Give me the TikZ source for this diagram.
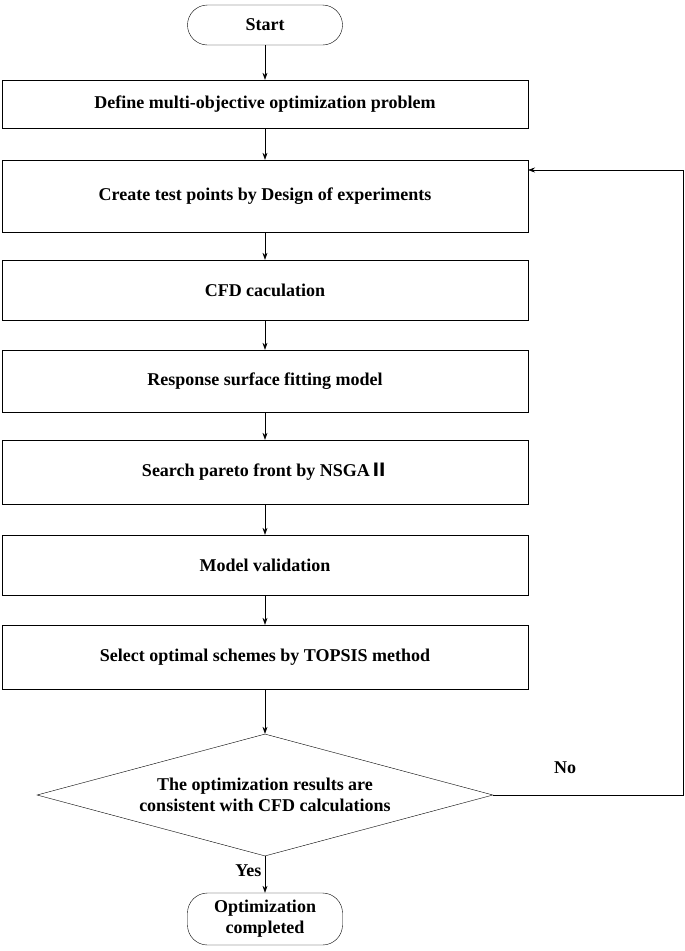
\documentclass[tikz,border=0pt]{standalone}
\usepackage{fontspec}
\setmainfont{Liberation Serif}
\newfontfamily\cjk{Noto Sans CJK SC}
\usetikzlibrary{shapes.geometric,arrows.meta}
\begin{document}
\begin{tikzpicture}[x=1pt,y=-1pt,
  every node/.style={font=\fontsize{18}{21}\selectfont\bfseries},
  proc/.style={draw,minimum width=526pt,minimum height=#1,inner sep=0pt},
  term/.style={draw,rounded corners=20pt,minimum width=155pt,align=center,inner sep=2pt},
  arr/.style={-{Stealth[length=7pt,width=5pt]},line width=0.6pt}]
\useasboundingbox (0,0) rectangle (685,951);
\node[term,minimum height=40pt] (s) at (265,25) {Start};
\node[proc=48pt] (b1) at (265,104) {Define multi-objective optimization problem};
\node[proc=72pt] (b2) at (265,196) {Create test points by Design of experiments};
\node[proc=60pt] (b3) at (265,290) {CFD caculation};
\node[proc=62pt] (b4) at (265,381) {Response surface fitting model};
\node[proc=64pt] (b5) at (265,472) {Search pareto front by NSGA{\cjk Ⅱ}};
\node[proc=60pt] (b6) at (265,565) {Model validation};
\node[proc=64pt] (b7) at (265,657) {Select optimal schemes by TOPSIS method};
\node[draw,diamond,aspect=3.74,minimum width=456pt,minimum height=122pt,inner sep=0pt,align=center] (d) at (265,795) {The optimization results are\\consistent with CFD calculations};
\node[term,minimum height=52pt] (e) at (265,919) {Optimization\\completed};
\coordinate (c1) at (683,795);
\coordinate (c2) at (683,170);
\coordinate (c3) at (528,170);
\draw[arr] (s) -- (b1);
\draw[arr] (b1) -- (b2);
\draw[arr] (b2) -- (b3);
\draw[arr] (b3) -- (b4);
\draw[arr] (b4) -- (b5);
\draw[arr] (b5) -- (b6);
\draw[arr] (b6) -- (b7);
\draw[arr] (b7) -- (d);
\draw[arr] (d) -- node[left,pos=0.4] (y) {Yes} (e);
\draw[arr] (d.east) -- (c1) -- (c2) -- (c3);
\node (no) at (565,768) {No};
\end{tikzpicture}
\end{document}
